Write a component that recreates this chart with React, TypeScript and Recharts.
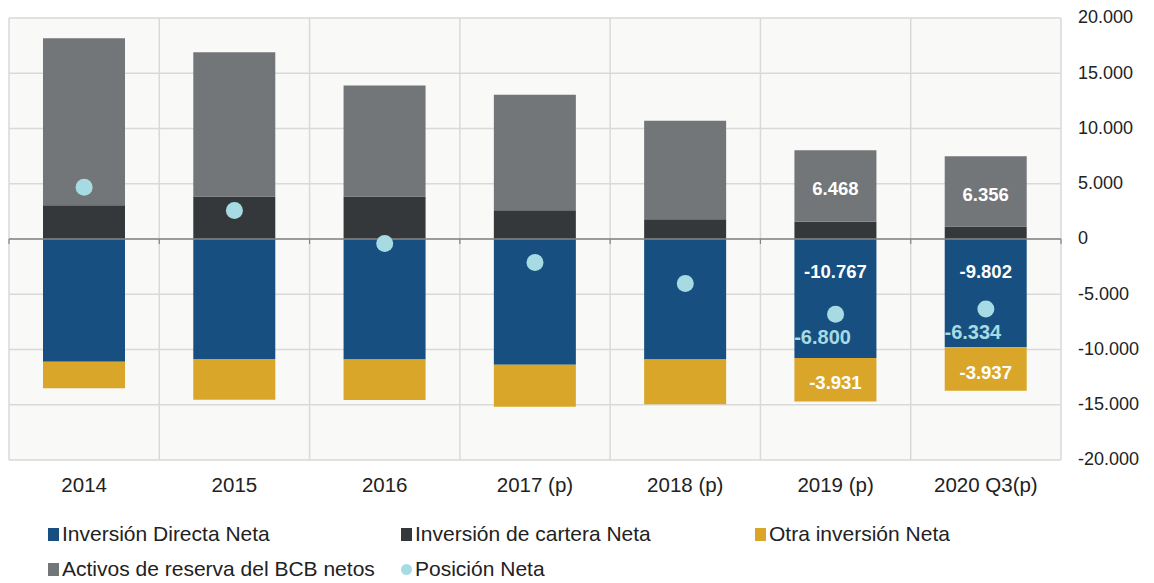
import React from 'react';
import { ComposedChart, Bar, Line, XAxis, YAxis, CartesianGrid, Legend, ReferenceLine, LabelList } from 'recharts';

const categories = ['2014', '2015', '2016', '2017 (p)', '2018 (p)', '2019 (p)', '2020 Q3(p)'];
const directa = [-11100, -10850, -10910, -11370, -10910, -10767, -9802];
const cartera = [3060, 3850, 3850, 2610, 1790, 1570, 1140];
const otra = [-2400, -3700, -3660, -3800, -4050, -3931, -3937];
const reservas = [15100, 13040, 10050, 10450, 8910, 6468, 6356];
const neta = [4690, 2580, -410, -2130, -4020, -6800, -6334];
const yTicks = [-20000, -15000, -10000, -5000, 0, 5000, 10000, 15000, 20000];
const labeledCategories = ['2019 (p)', '2020 Q3(p)'];

const data = categories.map((name, i) => ({
    name,
    directa: directa[i],
    cartera: cartera[i],
    otra: otra[i],
    reservas: reservas[i],
    neta: neta[i],
}));

const COLORS = {
    directa: '#164f80',
    cartera: '#35383b',
    otra: '#d9a629',
    reservas: '#737679',
    neta: '#a7dbe3',
};

const legendItems = [
    { name: 'Inversión Directa Neta', color: COLORS.directa, circle: false },
    { name: 'Inversión de cartera Neta', color: COLORS.cartera, circle: false },
    { name: 'Otra inversión Neta', color: COLORS.otra, circle: false },
    { name: 'Activos de reserva del BCB netos', color: COLORS.reservas, circle: false },
    { name: 'Posición Neta', color: COLORS.neta, circle: true },
];

const FONT = '"Liberation Sans", Arial, sans-serif';

const fmt = (v: number) => {
    const s = Math.abs(Math.round(v)).toString().replace(/\B(?=(\d{3})+(?!\d))/g, '.');
    return (v < 0 ? '-' : '') + s;
};

const isLabeled = (index: number) => labeledCategories.includes(categories[index]);

// labels inside the bar segments (only last two years)
const barLabel = (where: 'center' | 'top') => (props: any) => {
    const { x, y, width, height, value, index } = props;
    if (!isLabeled(index)) return null;
    const top = Math.min(y, y + height);
    const bottom = Math.max(y, y + height);
    const cy = where === 'center' ? (top + bottom) / 2 + 3 : top + 32;
    return (
        <text x={x + width / 2} y={cy} textAnchor="middle" dominantBaseline="central" fill="#ffffff"
            fontFamily={FONT} fontWeight="bold" fontSize={18.5}>
            {fmt(value)}
        </text>
    );
};

const netLabel = (props: any) => {
    const { x, y, value, index } = props;
    if (!isLabeled(index)) return null;
    return (
        <text x={x - 13} y={y + 23} textAnchor="middle" dominantBaseline="central" fill={COLORS.neta}
            fontFamily={FONT} fontWeight="bold" fontSize={20}>
            {fmt(value)}
        </text>
    );
};

const YTick = (props: any) => {
    const { x, y, payload } = props;
    return (
        <text x={x} y={y} dy="0.3em" textAnchor="start" fill="#222" fontFamily={FONT} fontSize={18}>
            {fmt(payload.value)}
        </text>
    );
};

// zero line with small marks at the category boundaries
const ZeroLine = (props: any) => {
    const { x1, x2, y1, y2 } = props;
    if (x1 == null) return null;
    const n = categories.length;
    return (
        <g>
            <line x1={x1} x2={x2} y1={y1} y2={y2} stroke="#858585" strokeWidth={1.5} />
            {Array.from({ length: n + 1 }, (_, i) => {
                const x = x1 + (i * (x2 - x1)) / n;
                return <line key={i} x1={x} x2={x} y1={y1} y2={y1 + 5} stroke="#858585" strokeWidth={1.2} />;
            })}
        </g>
    );
};

const colLeft = [48, 401, 755];
const rowCenter = [29, 64];

const LegendContent = () => (
    <div style={{ position: 'relative', width: 1154, height: 78, fontFamily: FONT, fontSize: 21, color: '#222' }}>
        {legendItems.map((item, i) => (
            <div key={item.name} style={{
                position: 'absolute',
                left: colLeft[i % 3],
                top: rowCenter[Math.floor(i / 3)] - 13,
                height: 26,
                display: 'flex',
                alignItems: 'center',
                gap: 3,
                whiteSpace: 'nowrap',
            }}>
                <span style={{
                    display: 'inline-block',
                    width: 11,
                    height: item.circle ? 11 : 13,
                    borderRadius: item.circle ? '50%' : 0,
                    background: item.color,
                }} />
                <span>{item.name}</span>
            </div>
        ))}
    </div>
);

export default function App() {
    return (
        <div style={{ position: 'absolute', left: 0, top: 0, background: '#fff' }}>
            <ComposedChart
                width={1154}
                height={583}
                data={data}
                stackOffset="sign"
                margin={{ top: 18, right: 0, left: 9, bottom: 0 }}
            >
                <CartesianGrid
                    fill="#f9f9f7"
                    stroke="#d9d9d9"
                    strokeWidth={1.5}
                    verticalCoordinatesGenerator={({ offset }: any) =>
                        Array.from({ length: categories.length + 1 }, (_, i) => offset.left + (i * offset.width) / categories.length)
                    }
                />
                <XAxis
                    dataKey="name"
                    axisLine={false}
                    tickLine={false}
                    height={45}
                    tickMargin={11}
                    tick={{ fill: '#222', fontSize: 20.5, fontFamily: FONT }}
                />
                <YAxis
                    orientation="right"
                    width={93}
                    domain={[-20000, 20000]}
                    ticks={yTicks}
                    axisLine={false}
                    tickLine={false}
                    tickMargin={11}
                    tick={<YTick />}
                />
                <Bar dataKey="directa" stackId="a" fill={COLORS.directa} barSize={82} isAnimationActive={false}>
                    <LabelList dataKey="directa" content={barLabel('top')} />
                </Bar>
                <Bar dataKey="cartera" stackId="a" fill={COLORS.cartera} barSize={82} isAnimationActive={false} />
                <Bar dataKey="otra" stackId="a" fill={COLORS.otra} barSize={82} isAnimationActive={false}>
                    <LabelList dataKey="otra" content={barLabel('center')} />
                </Bar>
                <Bar dataKey="reservas" stackId="a" fill={COLORS.reservas} barSize={82} isAnimationActive={false}>
                    <LabelList dataKey="reservas" content={barLabel('center')} />
                </Bar>
                <ReferenceLine y={0} shape={<ZeroLine />} />
                <Line
                    dataKey="neta"
                    stroke="none"
                    dot={{ r: 8.5, fill: COLORS.neta, stroke: 'none' }}
                    activeDot={false}
                    isAnimationActive={false}
                >
                    <LabelList dataKey="neta" content={netLabel} />
                </Line>
                <Legend
                    verticalAlign="bottom"
                    content={<LegendContent />}
                    wrapperStyle={{ left: 0, top: 505, width: 1154, height: 78 }}
                />
            </ComposedChart>
        </div>
    );
}
